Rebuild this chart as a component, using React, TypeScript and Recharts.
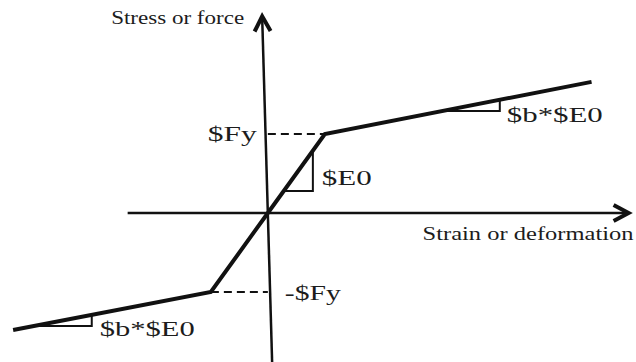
import React from 'react';
import { ComposedChart, Line, XAxis, YAxis, ReferenceLine, ReferenceDot } from 'recharts';

// backbone of the bilinear (steel01 style) model, in units of eps_y / Fy
const strain = [-4.47, -1, 0, 1, 5.68];
const stress = [-1.48, -1, 0, 1, 1.66];
const Fy = 1;
const epsY = 1;

// little slope triangles
const elasticTriStrain = [0.28, 0.79, 0.79];
const elasticTriStress = [0.28, 0.28, 0.79];
const upperTriStrain = [3.07, 4.07, 4.07];
const upperTriStress = [1.29, 1.29, 1.43];
const lowerTriStrain = [-4.07, -3.09, -3.09];
const lowerTriStress = [-1.43, -1.43, -1.29];

// axis arrows (start -> tip)
const xArrowStrain = [-2.46, 6.33];
const yArrowStrain = [0.075, -0.1];
const yArrowStress = [-1.886, 2.49];

const X_DOMAIN = [-4.7, 6.46];
const Y_DOMAIN = [-1.886, 2.696];

const INK = '#111';
const FONT = "'Liberation Serif', 'Times New Roman', serif";

const toPoints = (xs: number[], ys: number[]) => xs.map((x, i) => ({ strain: x, stress: ys[i] }));

const backbone = toPoints(strain, stress);
const elasticTri = toPoints(elasticTriStrain, elasticTriStress);
const upperTri = toPoints(upperTriStrain, upperTriStress);
const lowerTri = toPoints(lowerTriStrain, lowerTriStress);

function ArrowLine(props: any) {
  const { x1, y1, x2, y2 } = props;
  const ang = Math.atan2(y2 - y1, x2 - x1);
  const back = 15;
  const spread = 8;
  const bx = x2 - back * Math.cos(ang);
  const by = y2 - back * Math.sin(ang);
  const px = -Math.sin(ang) * spread;
  const py = Math.cos(ang) * spread;
  return (
    <g>
      <line x1={x1} y1={y1} x2={x2} y2={y2} stroke={INK} strokeWidth={2.5} />
      <polyline
        points={`${bx + px},${by + py} ${x2},${y2} ${bx - px},${by - py}`}
        fill="none"
        stroke={INK}
        strokeWidth={4}
        strokeLinejoin="miter"
      />
    </g>
  );
}

const textShape =
  (text: string, dx: number, dy: number, anchor: 'start' | 'end', size: number, length: number) =>
  (p: any) => (
    <text
      x={p.cx + dx}
      y={p.cy + dy}
      textAnchor={anchor}
      style={{ fontFamily: FONT, fontSize: size }}
      fill="#1c1c1c"
      textLength={length}
      lengthAdjust="spacingAndGlyphs"
    >
      {text}
    </text>
  );

export default function App() {
  return (
    <div style={{ position: 'absolute', left: 0, top: 0, width: 636, height: 362, background: '#fff' }}>
      <ComposedChart width={636} height={362} margin={{ top: 0, right: 0, bottom: 0, left: 0 }}>
        <XAxis type="number" dataKey="strain" domain={X_DOMAIN} allowDataOverflow hide />
        <YAxis type="number" dataKey="stress" domain={Y_DOMAIN} allowDataOverflow hide />

        <ReferenceLine
          segment={[{ x: xArrowStrain[0], y: 0 }, { x: xArrowStrain[1], y: 0 }]}
          shape={ArrowLine}
        />
        <ReferenceLine
          segment={[
            { x: yArrowStrain[0], y: yArrowStress[0] },
            { x: yArrowStrain[1], y: yArrowStress[1] },
          ]}
          shape={ArrowLine}
        />

        <ReferenceLine
          segment={[{ x: 0, y: Fy }, { x: epsY, y: Fy }]}
          stroke={INK}
          strokeWidth={2}
          strokeDasharray="8 5"
        />
        <ReferenceLine
          segment={[{ x: -epsY, y: -Fy }, { x: 0, y: -Fy }]}
          stroke={INK}
          strokeWidth={2}
          strokeDasharray="8 5"
        />

        {[elasticTri, upperTri, lowerTri].map((d, i) => (
          <Line
            key={i}
            data={d}
            dataKey="stress"
            type="linear"
            stroke={INK}
            strokeWidth={2}
            dot={false}
            activeDot={false}
            isAnimationActive={false}
          />
        ))}

        <Line
          data={backbone}
          dataKey="stress"
          type="linear"
          stroke={INK}
          strokeWidth={4}
          strokeLinejoin="miter"
          dot={false}
          activeDot={false}
          isAnimationActive={false}
        />

        <ReferenceDot x={yArrowStrain[1]} y={yArrowStress[1]} shape={textShape('Stress or force', -18, 8, 'end', 19, 133)} />
        <ReferenceDot x={xArrowStrain[1]} y={0} shape={textShape('Strain or deformation', 5, 27, 'end', 18, 211)} />
        <ReferenceDot x={0} y={Fy} shape={textShape('$Fy', -11, 7, 'end', 21, 49)} />
        <ReferenceDot x={0} y={-Fy} shape={textShape('-$Fy', 17, 8, 'start', 21, 56)} />
        <ReferenceDot x={elasticTriStrain[1]} y={elasticTriStress[1]} shape={textShape('$E0', 9, -6, 'start', 21, 50)} />
        <ReferenceDot x={upperTriStrain[1]} y={upperTriStress[1]} shape={textShape('$b*$E0', 7, 11, 'start', 21, 96)} />
        <ReferenceDot x={lowerTriStrain[1]} y={lowerTriStress[1]} shape={textShape('$b*$E0', 8, 10, 'start', 21, 95)} />
      </ComposedChart>
    </div>
  );
}
